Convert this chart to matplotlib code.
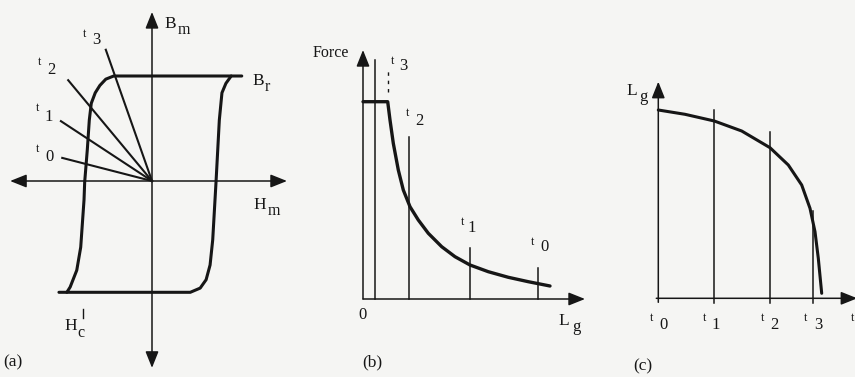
import matplotlib
matplotlib.use("Agg")
import matplotlib.pyplot as plt

INK = "#161616"
BG = "#f5f5f3"
SERIF = ["Liberation Serif", "DejaVu Serif"]

# ---- (a) hysteresis loop, H in units of Hc, B in units of Br ----
asc_H = [-1.29, -1.24, -1.14, -1.08, -1.03, -1.02, -0.98, -0.95, -0.92, -0.86, -0.79, -0.70, -0.58, 1.36]
asc_B = [-1.06, -1.01, -0.85, -0.63, -0.18, -0.01, 0.30, 0.58, 0.74, 0.84, 0.91, 0.97, 1.00, 1.00]
desc_H = [1.20, 1.12, 1.06, 1.02, 0.97, 0.92, 0.88, 0.82, 0.73, 0.58, 0.42, -1.41]
desc_B = [1.00, 0.93, 0.84, 0.58, -0.01, -0.56, -0.80, -0.94, -1.02, -1.06, -1.06, -1.06]
# load lines through the origin, one per instant
load_labels = ["3", "2", "1", "0"]
load_H = [-0.70, -1.27, -1.38, -1.36]
load_B = [1.25, 0.96, 0.57, 0.22]

# ---- (b) force against gap length ----
force_Lg = [0.0, 0.247, 0.27, 0.303, 0.353, 0.403, 0.47, 0.553, 0.653, 0.787, 0.92, 1.07, 1.253, 1.453, 1.653, 1.87]
force_F = [1.973, 1.973, 1.79, 1.557, 1.29, 1.09, 0.923, 0.79, 0.657, 0.523, 0.423, 0.34, 0.273, 0.217, 0.173, 0.13]
mark_Lg = [0.12, 0.46, 1.07, 1.75]
mark_top = [2.39, 1.62, 0.51, 0.31]

# ---- (c) gap length against time ----
time_t = [0.0, 0.267, 0.56, 0.834, 1.117, 1.30, 1.434, 1.517, 1.567, 1.60, 1.634]
time_Lg = [1.883, 1.84, 1.773, 1.673, 1.506, 1.333, 1.133, 0.90, 0.666, 0.40, 0.05]
instant_t = [0.56, 1.117, 1.55]
instant_top = [1.883, 1.66, 0.873]

W, H = 855, 377
fig = plt.figure(figsize=(W / 100, H / 100), dpi=100, facecolor=BG)


def panel(x0, x1, ox, oy, sx, sy):
    ax = fig.add_axes([x0 / W, 0, (x1 - x0) / W, 1])
    ax.set_xlim((x0 - ox) / sx, (x1 - ox) / sx)
    ax.set_ylim((oy - H) / sy, oy / sy)
    ax.axis("off")
    ax.patch.set_alpha(0)
    return ax


def arrow(ax, start, tip, style="-|>", lw=1.1):
    ax.annotate("", xy=tip, xytext=start,
                arrowprops=dict(arrowstyle=f"{style},head_length=0.5,head_width=0.2",
                                lw=lw, color=INK, shrinkA=0, shrinkB=0,
                                mutation_scale=20),
                annotation_clip=False)


def label(x, y, s, size=12.5, ha="center", va="center"):
    fig.text(x / W, 1 - y / H, s, fontsize=size, ha=ha, va=va,
             color=INK, family=SERIF)


def tlabel(xt, yt, xd, yd, digit):
    label(xt, yt, "t", size=8.5)
    label(xd, yd, digit, size=12)


# (a)
axa = panel(0, 290, 152, 181, 66, 105)
arrow(axa, (0, -1.78), (0, 1.61), style="<|-|>")
arrow(axa, (-2.15, 0), (2.045, 0), style="<|-|>")
axa.plot(asc_H, asc_B, color=INK, lw=2.2, solid_joinstyle="round", solid_capstyle="round")
axa.plot(desc_H, desc_B, color=INK, lw=2.2, solid_joinstyle="round", solid_capstyle="round")
for h, b in zip(load_H, load_B):
    axa.plot([0, h], [0, b], color=INK, lw=1.5)

label(164, 24, "B", ha="left")
label(178, 30, "m", size=11.5, ha="left")
label(252, 81, "B", ha="left")
label(265, 87, "r", size=11.5, ha="left")
label(253, 205, "H", ha="left")
label(268, 211, "m", size=11.5, ha="left")
label(64, 326, "H", ha="left")
label(77, 333, "c", size=11.5, ha="left")
axa.plot([-1.04, -1.04], [-1.22, -1.30], color=INK, lw=1.0)
label(3, 362, "(a)", ha="left")
tlabel(85, 34, 96, 40, "3")
tlabel(40, 62, 51, 70, "2")
tlabel(38, 108, 49, 117, "1")
tlabel(38, 149, 49, 157, "0")

# (b)
axb = panel(290, 600, 363, 299, 100, 100)
arrow(axb, (0, 0), (0, 2.49))
arrow(axb, (0, 0), (2.22, 0))
for x, top in zip(mark_Lg, mark_top):
    axb.plot([x, x], [0, top], color=INK, lw=1.1)
axb.plot(force_Lg, force_F, color=INK, lw=2.4, solid_joinstyle="round", solid_capstyle="round")
axb.plot([0.25, 0.25], [2.07, 2.29], color=INK, lw=1.0, linestyle=(0, (2.5, 3.5)))

label(313, 53, "Force", size=11.5, ha="left")
tlabel(393, 61, 403, 66, "3")
tlabel(408, 113, 419, 121, "2")
tlabel(463, 222, 472, 228, "1")
tlabel(533, 242, 544, 247, "0")
label(362, 315, "0", size=12)
label(564, 321, "L")
label(576, 327, "g", size=12)
label(372, 362, "(b)")

# (c)
axc = panel(600, 855, 658.3, 298.3, 100, 100)
arrow(axc, (0, -0.04), (0, 2.166))
arrow(axc, (-0.02, 0), (1.99, 0))
for x, top in zip(instant_t, instant_top):
    axc.plot([x, x], [-0.05, top], color=INK, lw=1.1)
axc.plot(time_t, time_Lg, color=INK, lw=2.2, solid_joinstyle="round", solid_capstyle="round")

label(632, 91, "L")
label(643, 97, "g", size=12)
tlabel(652, 318, 663, 325, "0")
tlabel(705, 318, 716, 325, "1")
tlabel(763, 318, 774, 325, "2")
tlabel(806, 318, 818, 325, "3")
label(853, 318, "t", size=8.5)
label(643, 366, "(c)")

fig.savefig("out.png", dpi=100, facecolor=BG)
